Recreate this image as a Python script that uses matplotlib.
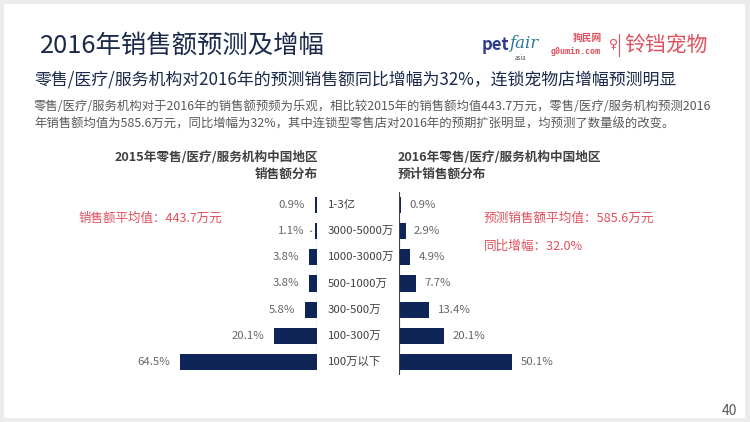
import numpy as np
import matplotlib.pyplot as plt
from matplotlib.patches import Rectangle

plt.rcParams['font.family'] = ['Noto Sans CJK SC', 'DejaVu Sans']

# ---- data ----
categories = ["1-3亿", "3000-5000万", "1000-3000万", "500-1000万", "300-500万", "100-300万", "100万以下"]
share_2015 = [0.9, 1.1, 3.8, 3.8, 5.8, 20.1, 64.5]
share_2016 = [0.9, 2.9, 4.9, 7.7, 13.4, 20.1, 50.1]

title = "2016年销售额预测及增幅"
subtitle = "零售/医疗/服务机构对2016年的预测销售额同比增幅为32%，连锁宠物店增幅预测明显"
body = ("零售/医疗/服务机构对于2016年的销售额预频为乐观，相比较2015年的销售额均值443.7万元，零售/医疗/服务机构预测2016\n"
        "年销售额均值为585.6万元，同比增幅为32%，其中连锁型零售店对2016年的预期扩张明显，均预测了数量级的改变。")

W, H = 750, 422
bar_color = "#0f2557"
red = "#e0505c"
gray = "#595959"

fig = plt.figure(figsize=(W / 100, H / 100), dpi=100)
fig.patch.set_facecolor("#ececec")


def px(x, y):
    # pixel coords (top-left origin) -> figure fraction
    return x / W, 1 - y / H


fig.add_artist(Rectangle((4 / W, 4 / H), 741 / W, 414 / H, transform=fig.transFigure,
                         facecolor="white", edgecolor="none", zorder=0))

ax_top, ax_bot = 192, 375
width_px = 170


def make_ax(x0, x1):
    l, b = x0 / W, 1 - ax_bot / H
    return fig.add_axes([l, b, (x1 - x0) / W, (ax_bot - ax_top) / H])


axL = make_ax(317 - width_px, 317)
axR = make_ax(399, 399 + width_px)

y = np.arange(len(categories))
for ax, vals, side, scale in [(axL, share_2015, "L", 2.13), (axR, share_2016, "R", 2.26)]:
    ax.barh(y, vals, height=0.62, color=bar_color)
    ax.set_ylim(len(categories) - 0.5, -0.5)
    ax.set_xlim(0, width_px / scale)
    ax.set_xticks([])
    ax.set_yticks([])
    for s in ax.spines.values():
        s.set_visible(False)
    ax.patch.set_alpha(0)
    ax.axvline(0, color="#404040", lw=0.8)
    if side == "L":
        ax.invert_xaxis()
        for i, v in enumerate(vals):
            ax.annotate(f"{v}%", (v, i), xytext=(-7, 0), textcoords="offset points",
                        ha="right", va="center", fontsize=8.2, color="#666666")
    else:
        for i, v in enumerate(vals):
            ax.annotate(f"{v}%", (v, i), xytext=(6, 0), textcoords="offset points",
                        ha="left", va="center", fontsize=8.2, color="#666666")

# leader line for the 1.1% label
axL.annotate("", xy=(share_2015[1], 1), xytext=(share_2015[1] + 3.3, 1),
             arrowprops=dict(arrowstyle="-", color=gray, lw=0.7))

# category labels between the charts
for i, c in enumerate(categories):
    yy = ax_top + (i + 0.5) * (ax_bot - ax_top) / len(categories)
    fig.text(*px(328, yy), c, ha="left", va="center", fontsize=8.2, color="#404040")

# titles and texts
fig.text(*px(40, 46), title, fontsize=18.3, color="#1b2a4a", va="center", ha="left")
fig.text(*px(34, 80), subtitle, fontsize=12.2, color="#1b2a4a", va="center", ha="left")
fig.text(*px(34, 115), body, fontsize=8.9, color=gray, va="center", ha="left", linespacing=1.45)

fig.text(*px(318, 166), "2015年零售/医疗/服务机构中国地区\n销售额分布", fontsize=9.1, fontweight="bold",
         color="#404040", ha="right", va="center", multialignment="right", linespacing=1.45)
fig.text(*px(398, 166), "2016年零售/医疗/服务机构中国地区\n预计销售额分布", fontsize=9.1, fontweight="bold",
         color="#404040", ha="left", va="center", multialignment="left", linespacing=1.45)

fig.text(*px(79, 218), "销售额平均值：443.7万元", fontsize=9, color=red, va="center")
fig.text(*px(484, 218), "预测销售额平均值：585.6万元", fontsize=9.1, color=red, va="center")
fig.text(*px(484, 246), "同比增幅：32.0%", fontsize=9.1, color=red, va="center")

# logos as text
fig.text(*px(482, 45), "pet", fontsize=12, color="#2b3a8c", fontweight="bold", va="center")
fig.text(*px(509, 43), "fair", fontsize=12, color="#2b7a9a", style="italic", va="center",
         family="DejaVu Serif")
fig.text(*px(515, 58), "asia", fontsize=4.5, color="#555555", va="center")
fig.text(*px(573, 38), "狗民网", fontsize=7, color=red, fontweight="bold", va="center")
fig.text(*px(551, 51), "g0umin.com", fontsize=6, color=red, fontweight="bold", va="center",
         family="DejaVu Sans Mono")
fig.text(*px(609, 44), "♀", fontsize=9, color=red, va="center", family="DejaVu Sans")
fig.add_artist(plt.Line2D([619 / W, 619 / W], [1 - 34 / H, 1 - 56 / H], transform=fig.transFigure,
                          color=red, lw=0.8))
fig.text(*px(624, 45), "铃铛宠物", fontsize=15, color=red, va="center")

fig.text(*px(737, 411), "40", fontsize=10, color=gray, ha="right", va="center")

fig.savefig("out.png", dpi=100, facecolor=fig.get_facecolor())
